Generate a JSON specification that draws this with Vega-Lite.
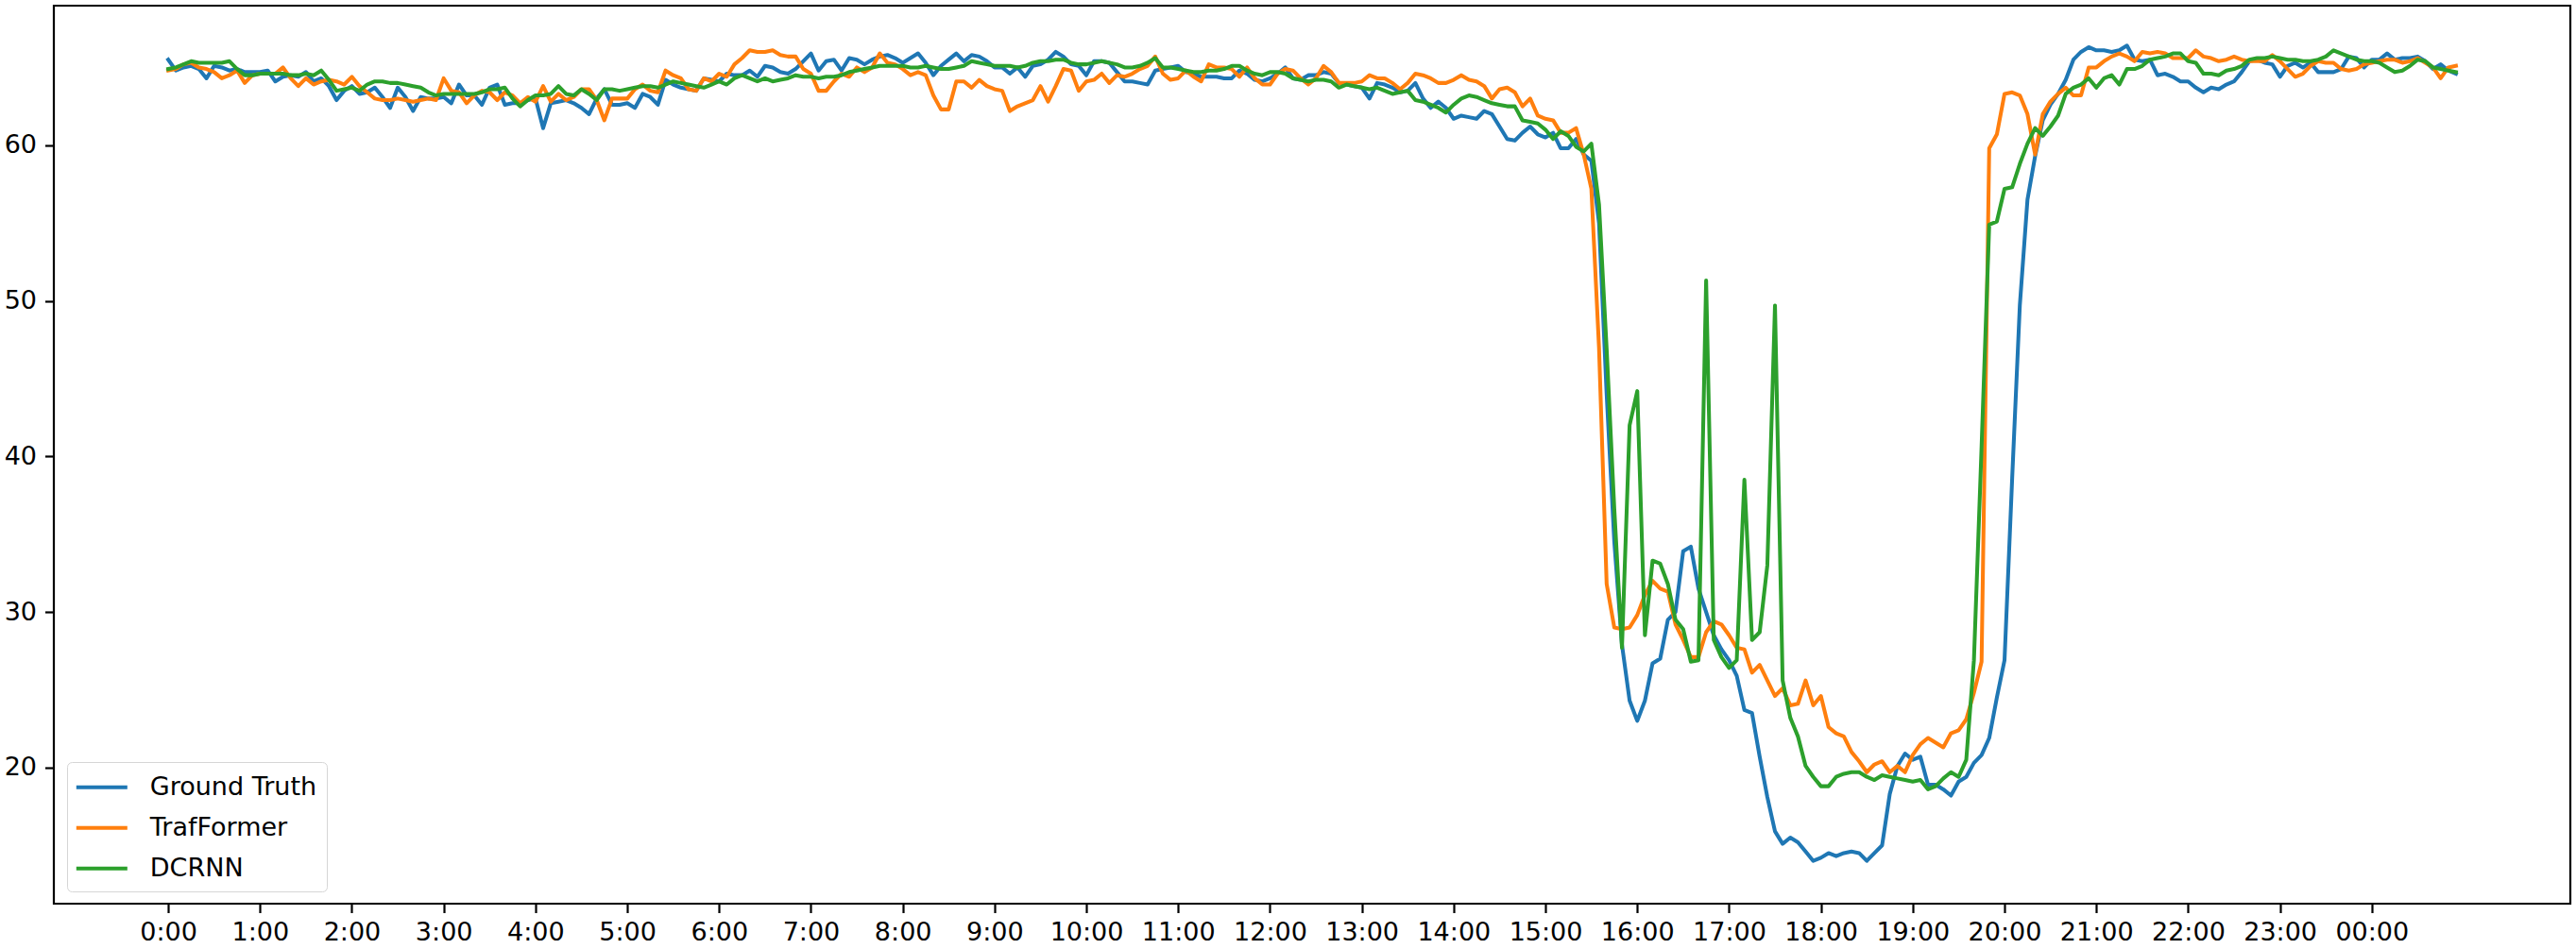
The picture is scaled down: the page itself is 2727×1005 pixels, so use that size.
{
  "$schema": "https://vega.github.io/schema/vega-lite/v6.json",
  "width": 2664,
  "height": 951,
  "autosize": {"type": "none"},
  "padding": {"left": 57, "top": 6, "right": 6, "bottom": 48},
  "background": "#ffffff",
  "datasets": {
    "gt": [
      {"i":0,"v":65.5},{"i":1,"v":64.8},{"i":2,"v":65.0},{"i":3,"v":65.1},{"i":4,"v":64.9},{"i":5,"v":64.3},{"i":6,"v":65.1},{"i":7,"v":65.0},{"i":8,"v":64.8},{"i":9,"v":64.9},
      {"i":10,"v":64.7},{"i":11,"v":64.7},{"i":12,"v":64.7},{"i":13,"v":64.8},{"i":14,"v":64.1},{"i":15,"v":64.4},{"i":16,"v":64.5},{"i":17,"v":64.4},{"i":18,"v":64.7},{"i":19,"v":64.1},
      {"i":20,"v":64.3},{"i":21,"v":63.8},{"i":22,"v":62.9},{"i":23,"v":63.5},{"i":24,"v":63.8},{"i":25,"v":63.3},{"i":26,"v":63.4},{"i":27,"v":63.7},{"i":28,"v":63.1},{"i":29,"v":62.4},
      {"i":30,"v":63.7},{"i":31,"v":63.1},{"i":32,"v":62.2},{"i":33,"v":63.1},{"i":34,"v":63.0},{"i":35,"v":63.0},{"i":36,"v":63.1},{"i":37,"v":62.7},{"i":38,"v":63.9},{"i":39,"v":63.2},
      {"i":40,"v":63.2},{"i":41,"v":62.6},{"i":42,"v":63.7},{"i":43,"v":63.9},{"i":44,"v":62.6},{"i":45,"v":62.7},{"i":46,"v":62.7},{"i":47,"v":62.9},{"i":48,"v":63.0},{"i":49,"v":61.1},
      {"i":50,"v":62.7},{"i":51,"v":62.8},{"i":52,"v":62.9},{"i":53,"v":62.7},{"i":54,"v":62.4},{"i":55,"v":62.0},{"i":56,"v":63.0},{"i":57,"v":63.6},{"i":58,"v":62.6},{"i":59,"v":62.6},
      {"i":60,"v":62.7},{"i":61,"v":62.4},{"i":62,"v":63.3},{"i":63,"v":63.1},{"i":64,"v":62.6},{"i":65,"v":64.2},{"i":66,"v":63.9},{"i":67,"v":63.7},{"i":68,"v":63.6},{"i":69,"v":63.5},
      {"i":70,"v":64.3},{"i":71,"v":64.2},{"i":72,"v":64.1},{"i":73,"v":64.6},{"i":74,"v":64.5},{"i":75,"v":64.5},{"i":76,"v":64.8},{"i":77,"v":64.4},{"i":78,"v":65.1},{"i":79,"v":65.0},
      {"i":80,"v":64.7},{"i":81,"v":64.6},{"i":82,"v":64.9},{"i":83,"v":65.4},{"i":84,"v":65.9},{"i":85,"v":64.8},{"i":86,"v":65.4},{"i":87,"v":65.5},{"i":88,"v":64.8},{"i":89,"v":65.6},
      {"i":90,"v":65.5},{"i":91,"v":65.2},{"i":92,"v":65.5},{"i":93,"v":65.7},{"i":94,"v":65.8},{"i":95,"v":65.6},{"i":96,"v":65.3},{"i":97,"v":65.6},{"i":98,"v":65.9},{"i":99,"v":65.3},
      {"i":100,"v":64.5},{"i":101,"v":65.1},{"i":102,"v":65.5},{"i":103,"v":65.9},{"i":104,"v":65.4},{"i":105,"v":65.8},{"i":106,"v":65.7},{"i":107,"v":65.4},{"i":108,"v":65.0},{"i":109,"v":65.0},
      {"i":110,"v":64.6},{"i":111,"v":65.0},{"i":112,"v":64.4},{"i":113,"v":65.1},{"i":114,"v":65.2},{"i":115,"v":65.5},{"i":116,"v":66.0},{"i":117,"v":65.7},{"i":118,"v":65.2},{"i":119,"v":65.1},
      {"i":120,"v":64.5},{"i":121,"v":65.4},{"i":122,"v":65.4},{"i":123,"v":65.3},{"i":124,"v":64.7},{"i":125,"v":64.1},{"i":126,"v":64.1},{"i":127,"v":64.0},{"i":128,"v":63.9},{"i":129,"v":64.8},
      {"i":130,"v":64.9},{"i":131,"v":65.0},{"i":132,"v":65.1},{"i":133,"v":64.7},{"i":134,"v":64.6},{"i":135,"v":64.4},{"i":136,"v":64.4},{"i":137,"v":64.4},{"i":138,"v":64.3},{"i":139,"v":64.3},
      {"i":140,"v":64.8},{"i":141,"v":64.6},{"i":142,"v":64.2},{"i":143,"v":64.1},{"i":144,"v":64.3},{"i":145,"v":64.6},{"i":146,"v":65.0},{"i":147,"v":64.3},{"i":148,"v":64.2},{"i":149,"v":64.5},
      {"i":150,"v":64.5},{"i":151,"v":64.7},{"i":152,"v":64.6},{"i":153,"v":64.0},{"i":154,"v":63.9},{"i":155,"v":63.8},{"i":156,"v":63.7},{"i":157,"v":63.0},{"i":158,"v":64.0},{"i":159,"v":63.9},
      {"i":160,"v":63.7},{"i":161,"v":63.4},{"i":162,"v":63.5},{"i":163,"v":64.0},{"i":164,"v":63.0},{"i":165,"v":62.4},{"i":166,"v":62.8},{"i":167,"v":62.4},{"i":168,"v":61.7},{"i":169,"v":61.9},
      {"i":170,"v":61.8},{"i":171,"v":61.7},{"i":172,"v":62.2},{"i":173,"v":62.0},{"i":174,"v":61.2},{"i":175,"v":60.4},{"i":176,"v":60.3},{"i":177,"v":60.8},{"i":178,"v":61.2},{"i":179,"v":60.7},
      {"i":180,"v":60.5},{"i":181,"v":60.8},{"i":182,"v":59.8},{"i":183,"v":59.8},{"i":184,"v":60.4},{"i":185,"v":59.4},{"i":186,"v":59.0},{"i":187,"v":55.0},{"i":188,"v":44.0},{"i":189,"v":34.5},
      {"i":190,"v":27.9},{"i":191,"v":24.3},{"i":192,"v":23.0},{"i":193,"v":24.3},{"i":194,"v":26.7},{"i":195,"v":27.0},{"i":196,"v":29.5},{"i":197,"v":30.0},{"i":198,"v":33.9},{"i":199,"v":34.2},
      {"i":200,"v":31.5},{"i":201,"v":30.0},{"i":202,"v":28.5},{"i":203,"v":27.6},{"i":204,"v":26.9},{"i":205,"v":25.9},{"i":206,"v":23.7},{"i":207,"v":23.5},{"i":208,"v":20.7},{"i":209,"v":18.1},
      {"i":210,"v":15.9},{"i":211,"v":15.1},{"i":212,"v":15.5},{"i":213,"v":15.2},{"i":214,"v":14.6},{"i":215,"v":14.0},{"i":216,"v":14.2},{"i":217,"v":14.5},{"i":218,"v":14.3},{"i":219,"v":14.5},
      {"i":220,"v":14.6},{"i":221,"v":14.5},{"i":222,"v":14.0},{"i":223,"v":14.5},{"i":224,"v":15.0},{"i":225,"v":18.3},{"i":226,"v":20.1},{"i":227,"v":20.9},{"i":228,"v":20.5},{"i":229,"v":20.7},
      {"i":230,"v":18.9},{"i":231,"v":18.9},{"i":232,"v":18.6},{"i":233,"v":18.2},{"i":234,"v":19.1},{"i":235,"v":19.4},{"i":236,"v":20.3},{"i":237,"v":20.8},{"i":238,"v":21.9},{"i":239,"v":24.5},
      {"i":240,"v":26.9},{"i":241,"v":38.6},{"i":242,"v":49.7},{"i":243,"v":56.5},{"i":244,"v":59.3},{"i":245,"v":61.6},{"i":246,"v":62.6},{"i":247,"v":63.3},{"i":248,"v":64.2},{"i":249,"v":65.5},
      {"i":250,"v":66.0},{"i":251,"v":66.3},{"i":252,"v":66.1},{"i":253,"v":66.1},{"i":254,"v":66.0},{"i":255,"v":66.1},{"i":256,"v":66.4},{"i":257,"v":65.5},{"i":258,"v":65.4},{"i":259,"v":65.5},
      {"i":260,"v":64.5},{"i":261,"v":64.6},{"i":262,"v":64.4},{"i":263,"v":64.1},{"i":264,"v":64.1},{"i":265,"v":63.7},{"i":266,"v":63.4},{"i":267,"v":63.7},{"i":268,"v":63.6},{"i":269,"v":63.9},
      {"i":270,"v":64.1},{"i":271,"v":64.7},{"i":272,"v":65.4},{"i":273,"v":65.5},{"i":274,"v":65.3},{"i":275,"v":65.2},{"i":276,"v":64.4},{"i":277,"v":65.1},{"i":278,"v":65.3},{"i":279,"v":65.0},
      {"i":280,"v":65.3},{"i":281,"v":64.7},{"i":282,"v":64.7},{"i":283,"v":64.7},{"i":284,"v":64.9},{"i":285,"v":65.7},{"i":286,"v":65.6},{"i":287,"v":65.0},{"i":288,"v":65.5},{"i":289,"v":65.5},
      {"i":290,"v":65.9},{"i":291,"v":65.5},{"i":292,"v":65.6},{"i":293,"v":65.6},{"i":294,"v":65.7},{"i":295,"v":65.4},{"i":296,"v":64.9},{"i":297,"v":65.2},{"i":298,"v":64.8},{"i":299,"v":64.6}
    ],
    "tf": [
      {"i":0,"v":64.8},{"i":1,"v":64.9},{"i":2,"v":65.2},{"i":3,"v":65.3},{"i":4,"v":65.0},{"i":5,"v":64.9},{"i":6,"v":64.7},{"i":7,"v":64.3},{"i":8,"v":64.5},{"i":9,"v":64.8},
      {"i":10,"v":64.0},{"i":11,"v":64.5},{"i":12,"v":64.6},{"i":13,"v":64.6},{"i":14,"v":64.6},{"i":15,"v":65.0},{"i":16,"v":64.3},{"i":17,"v":63.8},{"i":18,"v":64.3},{"i":19,"v":63.9},
      {"i":20,"v":64.1},{"i":21,"v":64.2},{"i":22,"v":64.1},{"i":23,"v":63.9},{"i":24,"v":64.4},{"i":25,"v":63.8},{"i":26,"v":63.4},{"i":27,"v":63.0},{"i":28,"v":62.9},{"i":29,"v":62.9},
      {"i":30,"v":63.0},{"i":31,"v":62.9},{"i":32,"v":62.8},{"i":33,"v":62.9},{"i":34,"v":63.0},{"i":35,"v":62.9},{"i":36,"v":64.3},{"i":37,"v":63.5},{"i":38,"v":63.4},{"i":39,"v":62.7},
      {"i":40,"v":63.2},{"i":41,"v":63.5},{"i":42,"v":63.4},{"i":43,"v":62.9},{"i":44,"v":63.4},{"i":45,"v":63.2},{"i":46,"v":62.7},{"i":47,"v":63.1},{"i":48,"v":62.8},{"i":49,"v":63.8},
      {"i":50,"v":62.8},{"i":51,"v":63.3},{"i":52,"v":62.9},{"i":53,"v":63.1},{"i":54,"v":63.6},{"i":55,"v":63.6},{"i":56,"v":62.9},{"i":57,"v":61.6},{"i":58,"v":63.0},{"i":59,"v":63.0},
      {"i":60,"v":63.0},{"i":61,"v":63.6},{"i":62,"v":63.9},{"i":63,"v":63.5},{"i":64,"v":63.4},{"i":65,"v":64.8},{"i":66,"v":64.5},{"i":67,"v":64.3},{"i":68,"v":63.6},{"i":69,"v":63.5},
      {"i":70,"v":64.3},{"i":71,"v":64.1},{"i":72,"v":64.6},{"i":73,"v":64.4},{"i":74,"v":65.2},{"i":75,"v":65.6},{"i":76,"v":66.1},{"i":77,"v":66.0},{"i":78,"v":66.0},{"i":79,"v":66.1},
      {"i":80,"v":65.8},{"i":81,"v":65.7},{"i":82,"v":65.7},{"i":83,"v":64.9},{"i":84,"v":64.6},{"i":85,"v":63.5},{"i":86,"v":63.5},{"i":87,"v":64.1},{"i":88,"v":64.6},{"i":89,"v":64.4},
      {"i":90,"v":65.0},{"i":91,"v":64.7},{"i":92,"v":65.0},{"i":93,"v":65.9},{"i":94,"v":65.3},{"i":95,"v":65.2},{"i":96,"v":64.9},{"i":97,"v":64.5},{"i":98,"v":64.7},{"i":99,"v":64.5},
      {"i":100,"v":63.2},{"i":101,"v":62.3},{"i":102,"v":62.3},{"i":103,"v":64.1},{"i":104,"v":64.1},{"i":105,"v":63.7},{"i":106,"v":64.2},{"i":107,"v":63.8},{"i":108,"v":63.6},{"i":109,"v":63.5},
      {"i":110,"v":62.2},{"i":111,"v":62.5},{"i":112,"v":62.7},{"i":113,"v":62.9},{"i":114,"v":63.8},{"i":115,"v":62.8},{"i":116,"v":63.8},{"i":117,"v":64.9},{"i":118,"v":64.8},{"i":119,"v":63.5},
      {"i":120,"v":64.1},{"i":121,"v":64.2},{"i":122,"v":64.6},{"i":123,"v":64.0},{"i":124,"v":64.5},{"i":125,"v":64.4},{"i":126,"v":64.6},{"i":127,"v":64.9},{"i":128,"v":65.1},{"i":129,"v":65.7},
      {"i":130,"v":64.6},{"i":131,"v":64.2},{"i":132,"v":64.3},{"i":133,"v":64.8},{"i":134,"v":64.4},{"i":135,"v":64.1},{"i":136,"v":65.2},{"i":137,"v":65.0},{"i":138,"v":65.0},{"i":139,"v":64.9},
      {"i":140,"v":64.4},{"i":141,"v":65.0},{"i":142,"v":64.3},{"i":143,"v":63.9},{"i":144,"v":63.9},{"i":145,"v":64.6},{"i":146,"v":64.9},{"i":147,"v":64.8},{"i":148,"v":64.3},{"i":149,"v":63.9},
      {"i":150,"v":64.3},{"i":151,"v":65.1},{"i":152,"v":64.7},{"i":153,"v":64.0},{"i":154,"v":64.0},{"i":155,"v":64.0},{"i":156,"v":64.1},{"i":157,"v":64.5},{"i":158,"v":64.3},{"i":159,"v":64.3},
      {"i":160,"v":64.0},{"i":161,"v":63.6},{"i":162,"v":64.0},{"i":163,"v":64.6},{"i":164,"v":64.5},{"i":165,"v":64.3},{"i":166,"v":64.0},{"i":167,"v":64.0},{"i":168,"v":64.2},{"i":169,"v":64.5},
      {"i":170,"v":64.2},{"i":171,"v":64.1},{"i":172,"v":63.8},{"i":173,"v":63.0},{"i":174,"v":63.6},{"i":175,"v":63.7},{"i":176,"v":63.4},{"i":177,"v":62.5},{"i":178,"v":63.0},{"i":179,"v":61.9},
      {"i":180,"v":61.7},{"i":181,"v":61.6},{"i":182,"v":60.8},{"i":183,"v":60.8},{"i":184,"v":61.1},{"i":185,"v":59.4},{"i":186,"v":57.2},{"i":187,"v":47.0},{"i":188,"v":31.8},{"i":189,"v":29.0},
      {"i":190,"v":28.9},{"i":191,"v":29.0},{"i":192,"v":29.8},{"i":193,"v":31.1},{"i":194,"v":32.0},{"i":195,"v":31.5},{"i":196,"v":31.3},{"i":197,"v":29.2},{"i":198,"v":28.2},{"i":199,"v":27.1},
      {"i":200,"v":27.1},{"i":201,"v":28.7},{"i":202,"v":29.4},{"i":203,"v":29.2},{"i":204,"v":28.5},{"i":205,"v":27.7},{"i":206,"v":27.6},{"i":207,"v":26.1},{"i":208,"v":26.6},{"i":209,"v":25.6},
      {"i":210,"v":24.6},{"i":211,"v":25.1},{"i":212,"v":24.0},{"i":213,"v":24.1},{"i":214,"v":25.6},{"i":215,"v":24.0},{"i":216,"v":24.6},{"i":217,"v":22.6},{"i":218,"v":22.2},{"i":219,"v":22.0},
      {"i":220,"v":21.0},{"i":221,"v":20.4},{"i":222,"v":19.7},{"i":223,"v":20.2},{"i":224,"v":20.4},{"i":225,"v":19.7},{"i":226,"v":20.1},{"i":227,"v":19.7},{"i":228,"v":20.8},{"i":229,"v":21.5},
      {"i":230,"v":21.9},{"i":231,"v":21.6},{"i":232,"v":21.3},{"i":233,"v":22.2},{"i":234,"v":22.4},{"i":235,"v":23.1},{"i":236,"v":24.8},{"i":237,"v":26.8},{"i":238,"v":59.8},{"i":239,"v":60.7},
      {"i":240,"v":63.3},{"i":241,"v":63.4},{"i":242,"v":63.2},{"i":243,"v":62.0},{"i":244,"v":59.4},{"i":245,"v":62.0},{"i":246,"v":62.8},{"i":247,"v":63.3},{"i":248,"v":63.7},{"i":249,"v":63.2},
      {"i":250,"v":63.2},{"i":251,"v":65.0},{"i":252,"v":65.0},{"i":253,"v":65.4},{"i":254,"v":65.7},{"i":255,"v":65.9},{"i":256,"v":65.7},{"i":257,"v":65.4},{"i":258,"v":66.0},{"i":259,"v":65.9},
      {"i":260,"v":66.0},{"i":261,"v":65.9},{"i":262,"v":65.6},{"i":263,"v":65.6},{"i":264,"v":65.6},{"i":265,"v":66.1},{"i":266,"v":65.7},{"i":267,"v":65.6},{"i":268,"v":65.4},{"i":269,"v":65.5},
      {"i":270,"v":65.7},{"i":271,"v":65.5},{"i":272,"v":65.4},{"i":273,"v":65.4},{"i":274,"v":65.4},{"i":275,"v":65.8},{"i":276,"v":65.4},{"i":277,"v":64.9},{"i":278,"v":64.4},{"i":279,"v":64.6},
      {"i":280,"v":65.1},{"i":281,"v":65.4},{"i":282,"v":65.3},{"i":283,"v":65.3},{"i":284,"v":64.9},{"i":285,"v":64.8},{"i":286,"v":64.9},{"i":287,"v":65.2},{"i":288,"v":65.3},{"i":289,"v":65.4},
      {"i":290,"v":65.5},{"i":291,"v":65.5},{"i":292,"v":65.3},{"i":293,"v":65.4},{"i":294,"v":65.6},{"i":295,"v":65.3},{"i":296,"v":65.0},{"i":297,"v":64.3},{"i":298,"v":65.0},{"i":299,"v":65.1}
    ],
    "dc": [
      {"i":0,"v":64.9},{"i":1,"v":65.0},{"i":2,"v":65.2},{"i":3,"v":65.4},{"i":4,"v":65.3},{"i":5,"v":65.3},{"i":6,"v":65.3},{"i":7,"v":65.3},{"i":8,"v":65.4},{"i":9,"v":64.9},
      {"i":10,"v":64.5},{"i":11,"v":64.5},{"i":12,"v":64.6},{"i":13,"v":64.6},{"i":14,"v":64.6},{"i":15,"v":64.6},{"i":16,"v":64.5},{"i":17,"v":64.5},{"i":18,"v":64.6},{"i":19,"v":64.5},
      {"i":20,"v":64.8},{"i":21,"v":64.2},{"i":22,"v":63.5},{"i":23,"v":63.6},{"i":24,"v":63.7},{"i":25,"v":63.5},{"i":26,"v":63.9},{"i":27,"v":64.1},{"i":28,"v":64.1},{"i":29,"v":64.0},
      {"i":30,"v":64.0},{"i":31,"v":63.9},{"i":32,"v":63.8},{"i":33,"v":63.7},{"i":34,"v":63.4},{"i":35,"v":63.2},{"i":36,"v":63.3},{"i":37,"v":63.3},{"i":38,"v":63.3},{"i":39,"v":63.3},
      {"i":40,"v":63.3},{"i":41,"v":63.4},{"i":42,"v":63.6},{"i":43,"v":63.6},{"i":44,"v":63.7},{"i":45,"v":63.0},{"i":46,"v":62.5},{"i":47,"v":62.9},{"i":48,"v":63.2},{"i":49,"v":63.2},
      {"i":50,"v":63.3},{"i":51,"v":63.8},{"i":52,"v":63.3},{"i":53,"v":63.2},{"i":54,"v":63.6},{"i":55,"v":63.3},{"i":56,"v":62.9},{"i":57,"v":63.6},{"i":58,"v":63.6},{"i":59,"v":63.5},
      {"i":60,"v":63.6},{"i":61,"v":63.7},{"i":62,"v":63.8},{"i":63,"v":63.8},{"i":64,"v":63.7},{"i":65,"v":63.9},{"i":66,"v":64.1},{"i":67,"v":64.0},{"i":68,"v":63.9},{"i":69,"v":63.8},
      {"i":70,"v":63.7},{"i":71,"v":63.9},{"i":72,"v":64.1},{"i":73,"v":63.9},{"i":74,"v":64.3},{"i":75,"v":64.5},{"i":76,"v":64.3},{"i":77,"v":64.1},{"i":78,"v":64.3},{"i":79,"v":64.1},
      {"i":80,"v":64.2},{"i":81,"v":64.3},{"i":82,"v":64.5},{"i":83,"v":64.4},{"i":84,"v":64.4},{"i":85,"v":64.3},{"i":86,"v":64.4},{"i":87,"v":64.4},{"i":88,"v":64.5},{"i":89,"v":64.7},
      {"i":90,"v":64.8},{"i":91,"v":64.9},{"i":92,"v":65.0},{"i":93,"v":65.1},{"i":94,"v":65.1},{"i":95,"v":65.1},{"i":96,"v":65.1},{"i":97,"v":65.0},{"i":98,"v":65.0},{"i":99,"v":65.1},
      {"i":100,"v":65.0},{"i":101,"v":64.9},{"i":102,"v":64.9},{"i":103,"v":65.0},{"i":104,"v":65.1},{"i":105,"v":65.4},{"i":106,"v":65.3},{"i":107,"v":65.2},{"i":108,"v":65.1},{"i":109,"v":65.1},
      {"i":110,"v":65.1},{"i":111,"v":65.0},{"i":112,"v":65.1},{"i":113,"v":65.3},{"i":114,"v":65.4},{"i":115,"v":65.4},{"i":116,"v":65.5},{"i":117,"v":65.5},{"i":118,"v":65.3},{"i":119,"v":65.2},
      {"i":120,"v":65.2},{"i":121,"v":65.3},{"i":122,"v":65.4},{"i":123,"v":65.3},{"i":124,"v":65.2},{"i":125,"v":65.0},{"i":126,"v":65.0},{"i":127,"v":65.1},{"i":128,"v":65.3},{"i":129,"v":65.6},
      {"i":130,"v":65.0},{"i":131,"v":65.0},{"i":132,"v":64.9},{"i":133,"v":64.8},{"i":134,"v":64.7},{"i":135,"v":64.7},{"i":136,"v":64.8},{"i":137,"v":64.8},{"i":138,"v":64.9},{"i":139,"v":65.1},
      {"i":140,"v":65.1},{"i":141,"v":64.8},{"i":142,"v":64.6},{"i":143,"v":64.5},{"i":144,"v":64.7},{"i":145,"v":64.7},{"i":146,"v":64.6},{"i":147,"v":64.3},{"i":148,"v":64.2},{"i":149,"v":64.1},
      {"i":150,"v":64.2},{"i":151,"v":64.2},{"i":152,"v":64.1},{"i":153,"v":63.7},{"i":154,"v":63.9},{"i":155,"v":63.8},{"i":156,"v":63.7},{"i":157,"v":63.6},{"i":158,"v":63.7},{"i":159,"v":63.5},
      {"i":160,"v":63.3},{"i":161,"v":63.4},{"i":162,"v":63.5},{"i":163,"v":62.9},{"i":164,"v":62.8},{"i":165,"v":62.6},{"i":166,"v":62.4},{"i":167,"v":62.1},{"i":168,"v":62.6},{"i":169,"v":63.0},
      {"i":170,"v":63.2},{"i":171,"v":63.1},{"i":172,"v":62.9},{"i":173,"v":62.7},{"i":174,"v":62.6},{"i":175,"v":62.5},{"i":176,"v":62.5},{"i":177,"v":61.6},{"i":178,"v":61.5},{"i":179,"v":61.4},
      {"i":180,"v":61.0},{"i":181,"v":60.4},{"i":182,"v":60.9},{"i":183,"v":60.6},{"i":184,"v":59.9},{"i":185,"v":59.6},{"i":186,"v":60.1},{"i":187,"v":56.2},{"i":188,"v":46.9},{"i":189,"v":36.6},
      {"i":190,"v":27.7},{"i":191,"v":42.0},{"i":192,"v":44.2},{"i":193,"v":28.5},{"i":194,"v":33.3},{"i":195,"v":33.1},{"i":196,"v":31.8},{"i":197,"v":29.5},{"i":198,"v":28.9},{"i":199,"v":26.8},
      {"i":200,"v":26.9},{"i":201,"v":51.3},{"i":202,"v":28.2},{"i":203,"v":27.1},{"i":204,"v":26.4},{"i":205,"v":26.9},{"i":206,"v":38.5},{"i":207,"v":28.2},{"i":208,"v":28.7},{"i":209,"v":33.0},
      {"i":210,"v":49.7},{"i":211,"v":25.6},{"i":212,"v":23.2},{"i":213,"v":22.0},{"i":214,"v":20.1},{"i":215,"v":19.4},{"i":216,"v":18.8},{"i":217,"v":18.8},{"i":218,"v":19.4},{"i":219,"v":19.6},
      {"i":220,"v":19.7},{"i":221,"v":19.7},{"i":222,"v":19.4},{"i":223,"v":19.2},{"i":224,"v":19.5},{"i":225,"v":19.4},{"i":226,"v":19.3},{"i":227,"v":19.2},{"i":228,"v":19.1},{"i":229,"v":19.2},
      {"i":230,"v":18.6},{"i":231,"v":18.8},{"i":232,"v":19.3},{"i":233,"v":19.7},{"i":234,"v":19.4},{"i":235,"v":20.5},{"i":236,"v":26.9},{"i":237,"v":40.6},{"i":238,"v":54.9},{"i":239,"v":55.1},
      {"i":240,"v":57.2},{"i":241,"v":57.3},{"i":242,"v":58.8},{"i":243,"v":60.1},{"i":244,"v":61.1},{"i":245,"v":60.6},{"i":246,"v":61.2},{"i":247,"v":61.9},{"i":248,"v":63.3},{"i":249,"v":63.7},
      {"i":250,"v":63.9},{"i":251,"v":64.3},{"i":252,"v":63.7},{"i":253,"v":64.3},{"i":254,"v":64.5},{"i":255,"v":63.9},{"i":256,"v":64.9},{"i":257,"v":64.9},{"i":258,"v":65.1},{"i":259,"v":65.5},
      {"i":260,"v":65.6},{"i":261,"v":65.7},{"i":262,"v":65.9},{"i":263,"v":65.9},{"i":264,"v":65.4},{"i":265,"v":65.3},{"i":266,"v":64.6},{"i":267,"v":64.6},{"i":268,"v":64.5},{"i":269,"v":64.8},
      {"i":270,"v":64.9},{"i":271,"v":65.1},{"i":272,"v":65.5},{"i":273,"v":65.6},{"i":274,"v":65.6},{"i":275,"v":65.7},{"i":276,"v":65.6},{"i":277,"v":65.5},{"i":278,"v":65.5},{"i":279,"v":65.4},
      {"i":280,"v":65.4},{"i":281,"v":65.5},{"i":282,"v":65.7},{"i":283,"v":66.1},{"i":284,"v":65.9},{"i":285,"v":65.7},{"i":286,"v":65.5},{"i":287,"v":65.4},{"i":288,"v":65.4},{"i":289,"v":65.3},
      {"i":290,"v":65.0},{"i":291,"v":64.7},{"i":292,"v":64.8},{"i":293,"v":65.1},{"i":294,"v":65.5},{"i":295,"v":65.4},{"i":296,"v":65.0},{"i":297,"v":64.9},{"i":298,"v":64.8},{"i":299,"v":64.7}
    ]
  },
  "encoding": {
    "x": {
      "field": "i",
      "type": "quantitative",
      "title": null,
      "scale": {"domain": [-14.95, 313.95], "nice": false, "zero": false},
      "axis": {
        "values": [0, 12, 24, 36, 48, 60, 72, 84, 96, 108, 120, 132, 144, 156, 168, 180, 192, 204, 216, 228, 240, 252, 264, 276, 288],
        "labelExpr": "datum.value == 288 ? '00:00' : floor(datum.value / 12) + ':00'",
        "labelPadding": 8,
        "labelOverlap": false,
        "labelFlush": false,
        "labelBound": false
      }
    },
    "y": {
      "field": "v",
      "type": "quantitative",
      "title": null,
      "scale": {"domain": [11.25, 68.97], "nice": false, "zero": false},
      "axis": {
        "values": [20, 30, 40, 50, 60],
        "labelPadding": 9,
        "labelOverlap": false,
        "labelFlush": false,
        "labelBound": false
      }
    }
  },
  "layer": [
    {
      "data": {"name": "gt"},
      "mark": {"type": "line", "strokeWidth": 4.05, "strokeJoin": "round", "strokeCap": "square"},
      "encoding": {
        "color": {
          "datum": "Ground Truth",
          "type": "nominal",
          "scale": {"domain": ["Ground Truth", "TrafFormer", "DCRNN"], "range": ["#1f77b4", "#ff7f0e", "#2ca02c"]},
          "legend": {
            "title": null,
            "orient": "bottom-left",
            "offset": 13.5,
            "padding": 10.8,
            "strokeColor": "#d6d6d6",
            "fillColor": "#ffffff",
            "cornerRadius": 5,
            "symbolType": "M-2,0H2",
            "symbolSize": 729,
            "symbolStrokeWidth": 4.05,
            "symbolOffset": 10,
            "labelOffset": 35,
            "labelLimit": 600,
            "labelFont": "DejaVu Sans",
            "labelFontSize": 27,
            "labelColor": "#000000",
            "rowPadding": 14
          }
        }
      }
    },
    {
      "data": {"name": "tf"},
      "mark": {"type": "line", "strokeWidth": 4.05, "strokeJoin": "round", "strokeCap": "square"},
      "encoding": {"color": {"datum": "TrafFormer", "type": "nominal"}}
    },
    {
      "data": {"name": "dc"},
      "mark": {"type": "line", "strokeWidth": 4.05, "strokeJoin": "round", "strokeCap": "square"},
      "encoding": {"color": {"datum": "DCRNN", "type": "nominal"}}
    }
  ],
  "config": {
    "view": {"stroke": "#000000", "strokeWidth": 2.2},
    "font": "DejaVu Sans",
    "axis": {
      "grid": false,
      "domain": false,
      "ticks": true,
      "tickColor": "#000000",
      "tickWidth": 2.2,
      "tickSize": 9.5,
      "labelFont": "DejaVu Sans",
      "labelFontSize": 27,
      "labelColor": "#000000"
    }
  }
}
